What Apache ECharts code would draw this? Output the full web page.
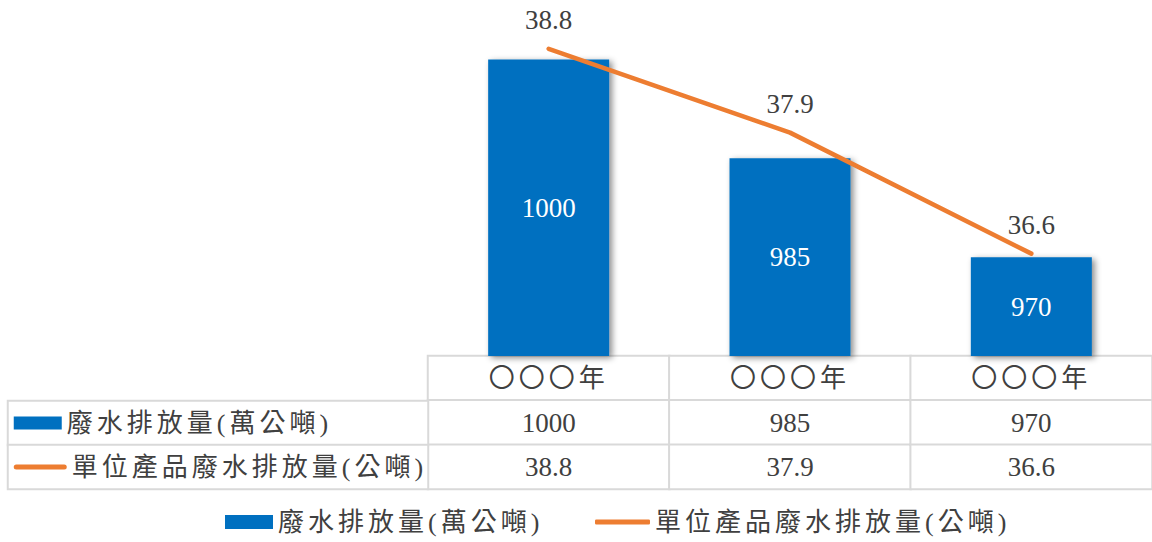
<!DOCTYPE html>
<html><head><meta charset="utf-8">
<script src="https://cdn.jsdelivr.net/npm/echarts@6/dist/echarts.min.js"></script>
<style>
html,body{margin:0;padding:0;background:#fff;}
#c{width:1152px;height:542px;}
#c text[style*="CJK"]{letter-spacing:4px;}
</style></head><body><div id="c"></div>
<script>
// ---- data ----
const categories = ['〇〇〇年', '〇〇〇年', '〇〇〇年'];
const seriesNames = ['廢水排放量(萬公噸)', '單位產品廢水排放量(公噸)'];
const wastewater = [1000, 985, 970];
const perUnit = [38.8, 37.9, 36.6];

// ---- styles ----
const NUM_FONT = '"Liberation Serif", "Times New Roman", serif';
const CJK_FONT = '"Liberation Serif", "Noto Sans CJK TC", serif';
const BLUE = '#0070C0', ORANGE = '#ED7D31', GRID = '#d9d9d9', TXT = '#404040';

// table cells built from the arrays
const tableCells = [];
categories.forEach((c, i) => {
  tableCells.push({ value: [i, 0, i], label: { fontFamily: CJK_FONT, fontSize: 26 } });
  tableCells.push({ value: [i, 1, wastewater[i]] });
  tableCells.push({ value: [i, 2, perUnit[i]] });
});
const rowHeadCells = seriesNames.map((n, j) => [0, j, j]);
const idx = n => Array.from({ length: n }, (_, i) => 'k' + i);

const chart = echarts.init(document.getElementById('c'), null, { renderer: 'svg' });
chart.setOption({
  animation: false,
  textStyle: { fontFamily: NUM_FONT },
  grid: [
    { left: 428, right: -2, top: 20, bottom: 186 },
    { left: 428, right: -2, top: 356, height: 133 },
    { left: 8, width: 420, top: 401, height: 88 }
  ],
  xAxis: [
    { type: 'category', gridIndex: 0, data: idx(categories.length), show: false },
    { type: 'category', gridIndex: 1, data: idx(categories.length), show: false },
    { type: 'category', gridIndex: 2, data: idx(1), show: false }
  ],
  yAxis: [
    { type: 'value', gridIndex: 0, min: 955, max: 1006, startValue: 955, show: false },
    { type: 'value', gridIndex: 0, min: 35.5, max: 39.11, show: false },
    { type: 'category', gridIndex: 1, data: idx(3), inverse: true, show: false },
    { type: 'category', gridIndex: 2, data: idx(2), inverse: true, show: false }
  ],
  legend: [
    { left: 225, top: 509, padding: 0, itemWidth: 48, itemHeight: 14, selectedMode: false,
      data: [{ name: seriesNames[0], icon: 'rect' }],
      textStyle: { fontFamily: CJK_FONT, fontSize: 26, color: TXT } },
    { left: 595, top: 509, padding: 0, itemWidth: 55, itemHeight: 5, selectedMode: false,
      data: [{ name: seriesNames[1], icon: 'roundRect' }],
      textStyle: { fontFamily: CJK_FONT, fontSize: 26, color: TXT } }
  ],
  series: [
    {
      type: 'bar', name: seriesNames[0], xAxisIndex: 0, yAxisIndex: 0, data: wastewater,
      barWidth: 121, color: BLUE,
      itemStyle: { color: BLUE, shadowColor: 'rgba(0,0,0,0.45)', shadowBlur: 6, shadowOffsetX: 3, shadowOffsetY: 2 },
      label: { show: true, position: 'inside', color: '#fff', fontSize: 27, fontFamily: NUM_FONT },
      silent: true
    },
    {
      type: 'line', name: seriesNames[1], xAxisIndex: 0, yAxisIndex: 1, data: perUnit,
      color: ORANGE, symbol: 'circle', symbolSize: 1,
      lineStyle: { width: 4.5, color: ORANGE, cap: 'round' },
      itemStyle: { color: ORANGE },
      label: { show: true, position: 'top', distance: 15, fontSize: 27, color: TXT, fontFamily: NUM_FONT,
        formatter: p => Number(p.value).toFixed(1) },
      silent: true
    },
    {
      type: 'heatmap', xAxisIndex: 1, yAxisIndex: 2, data: tableCells, silent: true,
      itemStyle: { color: '#fff', borderColor: GRID, borderWidth: 2 },
      emphasis: { disabled: true },
      label: {
        show: true, color: TXT, fontSize: 27, fontFamily: NUM_FONT,
        formatter: p => {
          const col = p.data.value[0], row = p.data.value[1];
          if (row === 0) return categories[col];
          if (row === 1) return String(wastewater[col]);
          return perUnit[col].toFixed(1);
        }
      }
    },
    {
      type: 'heatmap', xAxisIndex: 2, yAxisIndex: 3, data: rowHeadCells, silent: true,
      itemStyle: { color: '#fff', borderColor: GRID, borderWidth: 2 },
      emphasis: { disabled: true },
      label: {
        show: true, position: 'insideLeft', distance: 7,
        formatter: p => (p.data[1] === 0 ? '{box|}' : '{line|}') + '{txt|' + seriesNames[p.data[1]] + '}',
        rich: {
          box: { width: 48, height: 13, backgroundColor: BLUE, verticalAlign: 'middle' },
          line: { width: 53, height: 5, backgroundColor: ORANGE, borderRadius: 2.5, verticalAlign: 'middle' },
          txt: { fontFamily: CJK_FONT, fontSize: 26, color: TXT, padding: [0, 0, 0, 5], verticalAlign: 'middle' }
        }
      }
    }
  ]
});
</script></body></html>
